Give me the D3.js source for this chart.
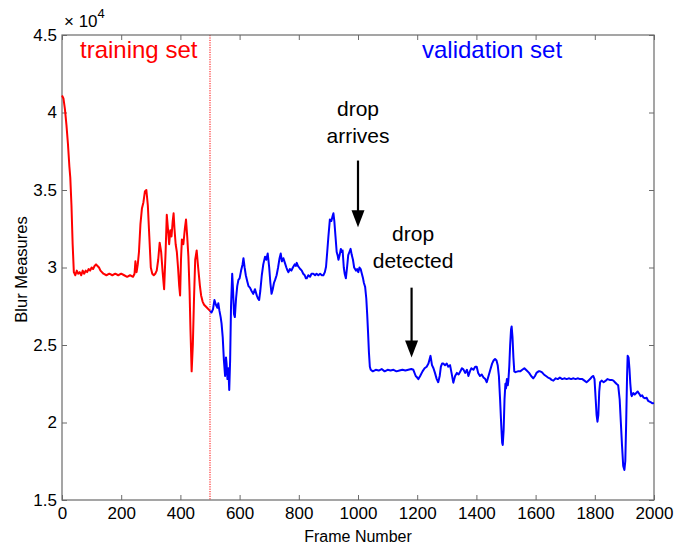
<!DOCTYPE html>
<html><head><meta charset="utf-8">
<script src="https://cdn.jsdelivr.net/npm/d3@7"></script>
<style>
html,body{margin:0;padding:0;background:#fff;}
svg{display:block;font-family:"Liberation Sans",Arial,Helvetica,sans-serif;}
</style></head>
<body>
<svg id="chart" width="688" height="547"></svg>
<script>
// ---- data ----
const xTicks = [0,200,400,600,800,1000,1200,1400,1600,1800,2000];
const yTicks = [1.5,2,2.5,3,3.5,4,4.5];
const yTickLabels = ["1.5","2","2.5","3","3.5","4","4.5"];
const splitFrame = 500;

const trainingFrames = [0,5,10,15,20,25,28,32,36,40,45,50,55,60,65,70,75,80,85,90,95,100,105,110,115,120,125,130,140,150,160,170,180,190,200,210,220,230,240,245,248,252,256,260,265,270,275,280,285,290,295,300,305,310,315,320,325,330,335,340,345,350,354,358,362,366,370,374,377,380,384,388,392,396,399,402,405,410,415,419,423,427,431,434,438,442,446,450,455,460,466,470,475,480,485,490,495,500];
const trainingValues = [4.11,4.09,4.02,3.92,3.80,3.65,3.58,3.40,3.15,2.97,2.95,2.98,2.96,2.97,2.95,2.98,2.96,2.98,2.97,2.99,2.98,3.00,2.99,3.01,3.02,3.01,3.00,2.98,2.96,2.95,2.96,2.95,2.96,2.95,2.96,2.95,2.94,2.95,2.94,2.96,3.04,2.97,3.02,3.10,3.28,3.38,3.42,3.49,3.50,3.40,3.20,3.00,2.96,2.95,2.96,2.98,3.05,3.16,3.10,2.97,2.86,3.10,3.34,3.25,3.15,3.24,3.20,3.30,3.35,3.25,3.15,3.10,3.00,2.88,2.82,3.05,3.18,3.15,3.25,3.31,3.20,3.07,2.85,2.60,2.33,2.50,2.80,3.05,3.11,3.00,2.88,2.82,2.78,2.76,2.75,2.74,2.73,2.72];

const validationFrames = [500,505,510,515,520,525,528,532,536,539,543,547,551,554,556,559,562,565,568,571,575,578,581,584,588,592,596,600,605,610,613,617,621,626,630,635,640,646,652,658,662,666,670,675,680,686,690,695,700,704,708,712,716,720,725,730,735,739,743,748,753,758,762,765,770,775,780,786,790,793,797,801,805,810,815,820,824,827,832,838,843,849,855,860,866,872,878,883,888,892,896,900,905,910,914,917,920,924,928,931,934,938,942,945,948,952,955,959,963,967,971,975,979,983,987,990,993,997,1001,1005,1009,1013,1017,1020,1024,1028,1031,1034,1037,1040,1043,1050,1060,1070,1080,1090,1100,1110,1120,1130,1140,1150,1160,1170,1180,1187,1195,1200,1204,1210,1218,1225,1232,1238,1245,1250,1255,1260,1266,1271,1276,1280,1284,1288,1294,1300,1305,1311,1316,1322,1328,1334,1340,1346,1351,1356,1362,1368,1373,1378,1383,1390,1396,1401,1406,1412,1418,1424,1430,1435,1441,1447,1453,1458,1463,1468,1472,1476,1480,1484,1487,1489,1492,1495,1498,1500,1503,1506,1508,1511,1514,1517,1519,1522,1525,1528,1532,1540,1548,1555,1562,1570,1578,1585,1592,1598,1603,1610,1615,1621,1628,1635,1642,1648,1654,1660,1668,1675,1682,1690,1697,1705,1712,1720,1728,1735,1742,1750,1758,1765,1772,1778,1784,1790,1795,1799,1803,1806,1809,1812,1815,1818,1823,1830,1837,1843,1850,1857,1863,1868,1873,1879,1884,1888,1892,1896,1900,1903,1906,1909,1911,1914,1917,1920,1923,1925,1930,1935,1940,1945,1950,1955,1960,1965,1970,1975,1980,1985,1990,1995,2000];
const validationValues = [2.72,2.71,2.73,2.79,2.76,2.74,2.77,2.72,2.68,2.64,2.55,2.40,2.30,2.42,2.38,2.28,2.35,2.21,2.40,2.75,2.96,2.85,2.70,2.68,2.80,2.88,2.92,2.93,2.98,3.02,3.06,3.00,2.95,2.91,2.88,2.87,2.85,2.83,2.86,2.82,2.80,2.79,2.85,2.95,3.02,3.07,3.05,3.09,3.00,2.90,2.83,2.86,2.90,2.92,2.95,3.00,3.06,3.09,3.04,3.06,3.03,3.00,2.98,2.97,2.99,2.98,3.00,3.02,3.01,3.03,3.01,3.00,2.99,2.98,2.96,2.95,2.93,2.93,2.95,2.94,2.96,2.96,2.95,2.96,2.95,2.96,2.95,2.95,2.97,3.005,3.10,3.20,3.31,3.30,3.33,3.35,3.30,3.20,3.10,3.08,3.05,3.08,3.12,3.10,3.11,3.00,2.96,2.93,3.00,3.08,3.10,3.12,3.08,3.05,3.00,2.99,2.98,2.99,2.97,3.00,2.99,2.96,2.93,2.90,2.876,2.80,2.70,2.58,2.45,2.36,2.34,2.33,2.34,2.335,2.345,2.33,2.34,2.335,2.34,2.33,2.335,2.34,2.335,2.34,2.345,2.34,2.30,2.29,2.28,2.30,2.33,2.35,2.36,2.38,2.43,2.37,2.35,2.32,2.28,2.26,2.30,2.36,2.38,2.38,2.37,2.38,2.36,2.37,2.32,2.257,2.30,2.32,2.31,2.33,2.35,2.343,2.32,2.34,2.30,2.33,2.35,2.34,2.36,2.36,2.32,2.30,2.31,2.29,2.28,2.26,2.30,2.34,2.38,2.40,2.41,2.40,2.37,2.30,2.15,1.98,1.87,1.855,1.95,2.15,2.25,2.22,2.28,2.24,2.27,2.36,2.50,2.60,2.62,2.55,2.42,2.33,2.325,2.33,2.33,2.34,2.35,2.335,2.32,2.30,2.285,2.30,2.32,2.33,2.33,2.325,2.31,2.30,2.29,2.285,2.275,2.27,2.285,2.28,2.29,2.28,2.285,2.28,2.285,2.28,2.285,2.28,2.285,2.28,2.28,2.27,2.26,2.27,2.28,2.295,2.30,2.28,2.15,2.05,2.005,2.05,2.20,2.26,2.27,2.26,2.27,2.28,2.275,2.275,2.27,2.26,2.25,2.24,2.15,2.00,1.85,1.72,1.694,1.75,2.00,2.30,2.43,2.42,2.35,2.25,2.18,2.17,2.19,2.18,2.19,2.20,2.185,2.17,2.175,2.16,2.156,2.16,2.14,2.135,2.13,2.124,2.125];

// annotations (data coordinates)
const annotationLabels = [["drop","arrives"],["drop","detected"]];
const annotationTextFrames = [1000,1186];
const annotationTextValues = [[3.98,3.805],[3.17,3.00]];
const arrowFrames = [1000,1181];
const arrowFromValues = [3.69,2.87];
const arrowToValues = [3.26,2.42];

// ---- layout ----
const svg = d3.select("#chart");
const L=62,R=654,T=35,B=500;
const x = d3.scaleLinear().domain([0,2000]).range([L,R]);
const y = d3.scaleLinear().domain([1.5,4.5]).range([B,T]);
const axisColor = "#6a6a6a";

// dotted split line
svg.append("line").attr("x1",x(splitFrame)).attr("x2",x(splitFrame))
  .attr("y1",T).attr("y2",B).attr("stroke","#ff0000").attr("stroke-width",1)
  .attr("stroke-dasharray","1.2,1.2");

// axes
function styleAxis(g){
  g.select(".domain").remove();
  g.selectAll(".tick line").attr("stroke",axisColor);
  g.selectAll(".tick text").attr("fill","#000").style("font-size","17px")
    .style("font-family",'"Liberation Sans",Arial,sans-serif');
}
svg.append("g").attr("transform",`translate(0,${B})`)
  .call(d3.axisBottom(x).tickValues(xTicks).tickFormat(d3.format("d")).tickSize(-5).tickPadding(7))
  .call(styleAxis);
svg.append("g").attr("transform",`translate(0,${T})`)
  .call(d3.axisTop(x).tickValues(xTicks).tickFormat("").tickSize(-5))
  .call(styleAxis);
svg.append("g").attr("transform",`translate(${L},0)`)
  .call(d3.axisLeft(y).tickValues(yTicks).tickFormat((d,i)=>yTickLabels[i]).tickSize(-5).tickPadding(5))
  .call(styleAxis);
svg.append("g").attr("transform",`translate(${R},0)`)
  .call(d3.axisRight(y).tickValues(yTicks).tickFormat("").tickSize(-5))
  .call(styleAxis);

// box
svg.append("rect").attr("x",L).attr("y",T).attr("width",R-L).attr("height",B-T)
  .attr("fill","none").attr("stroke",axisColor).attr("stroke-width",1.2);

// lines
const line = d3.line().x(d=>x(d[0])).y(d=>y(d[1]));
const trainingData = trainingFrames.map((f,i)=>[f,trainingValues[i]]);
const validationData = validationFrames.map((f,i)=>[f,validationValues[i]]);
svg.append("path").datum(validationData).attr("d",line).attr("fill","none")
  .attr("stroke","#0000ff").attr("stroke-width",2).attr("stroke-linejoin","round");
svg.append("path").datum(trainingData).attr("d",line).attr("fill","none")
  .attr("stroke","#ff0000").attr("stroke-width",2).attr("stroke-linejoin","round");

// set labels
svg.append("text").attr("x",80).attr("y",58).attr("fill","#ff0000")
  .style("font-size","24px").text("training set");
svg.append("text").attr("x",422).attr("y",58).attr("fill","#0000ff")
  .style("font-size","24px").text("validation set");

// annotations
annotationLabels.forEach((lines,i)=>{
  lines.forEach((t,j)=>{
    svg.append("text").attr("x",x(annotationTextFrames[i])).attr("y",y(annotationTextValues[i][j]))
      .attr("text-anchor","middle").attr("fill","#000").style("font-size","21px").text(t);
  });
  const ax = x(arrowFrames[i]), y0 = y(arrowFromValues[i]), y1 = y(arrowToValues[i]);
  svg.append("line").attr("x1",ax).attr("x2",ax).attr("y1",y0).attr("y2",y1-14)
    .attr("stroke","#000").attr("stroke-width",2.2);
  svg.append("path").attr("d",`M${ax-6.5},${y1-17}L${ax+6.5},${y1-17}L${ax},${y1}Z`).attr("fill","#000");
});

// axis titles
svg.append("text").attr("x",(L+R)/2).attr("y",542).attr("text-anchor","middle")
  .style("font-size","16px").text("Frame Number");
svg.append("text").attr("transform",`translate(27,${(T+B)/2+2}) rotate(-90)`)
  .attr("text-anchor","middle").style("font-size","16.5px").text("Blur Measures");

// exponent
const ex = svg.append("text").attr("x",64).attr("y",27).style("font-size","17px");
ex.append("tspan").text("× 10");
ex.append("tspan").attr("dy",-9).style("font-size","13px").text("4");
</script>
</body></html>
